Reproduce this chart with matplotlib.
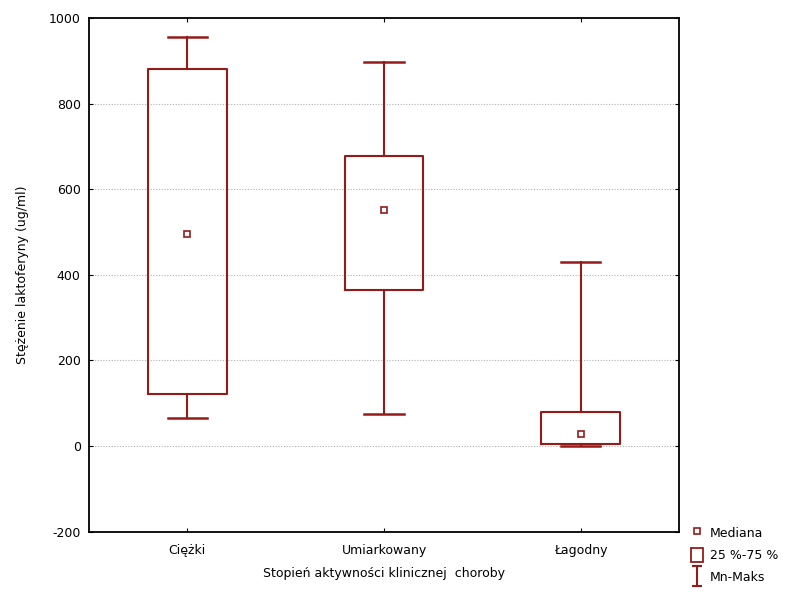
"""Lactoferrin concentration by clinical activity grade — box-whisker chart."""

import matplotlib
matplotlib.use('Agg')
import matplotlib.pyplot as plt
from matplotlib.lines import Line2D
from matplotlib.patches import Patch
from matplotlib.path import Path

# Per-group summary statistics (ug/ml)
groups = ['Ciężki', 'Umiarkowany', 'Łagodny']
medians = [495, 551, 27]
q1 = [121, 364, 5]
q3 = [882, 679, 80]
mins = [65, 75, 1]
maxs = [957, 898, 431]

RED = '#951b1b'

plt.rcParams['font.family'] = ['DejaVu Sans']
plt.rcParams['font.size'] = 9
plt.rcParams['axes.unicode_minus'] = False

fig = plt.figure(figsize=(7.87, 5.94), dpi=100)
ax = fig.add_axes([0.1131, 0.1052, 0.7497, 0.8637])

stats = []
for name, med, lo, hi, mn, mx in zip(groups, medians, q1, q3, mins, maxs):
    stats.append({'label': name, 'med': med, 'q1': lo, 'q3': hi,
                  'whislo': mn, 'whishi': mx})

positions = list(range(1, len(groups) + 1))
ax.bxp(stats, positions=positions, widths=0.4, capwidths=0.2,
       showfliers=False, patch_artist=False,
       boxprops=dict(color=RED, linewidth=1.5),
       whiskerprops=dict(color=RED, linewidth=1.5),
       capprops=dict(color=RED, linewidth=1.8),
       medianprops=dict(linestyle='none'),
       zorder=3)
ax.plot(positions, medians, linestyle='none', marker='s', markersize=4.5,
        markerfacecolor='white', markeredgecolor=RED, markeredgewidth=1.2,
        zorder=4)

ax.set_xlim(0.5, 3.5)
ax.set_ylim(-200, 1000)
ax.set_yticks(range(-200, 1001, 200))
ax.set_xticks(positions)
ax.set_xticklabels(groups)

# dotted grid only across the inner ticks
for y in range(0, 801, 200):
    ax.axhline(y, color='#b0b0b0', linestyle=(0, (1, 1.5)), linewidth=0.8, zorder=1)

for side in ax.spines.values():
    side.set_linewidth(1.3)
    side.set_color('black')

ax.tick_params(axis='x', direction='in', top=True, bottom=True, length=3, pad=9)
ax.tick_params(axis='y', direction='in', left=True, right=True, length=3, pad=6)

ax.set_xlabel('Stopień aktywności klinicznej  choroby', labelpad=7)
ax.set_ylabel('Stężenie laktoferyny (ug/ml)', labelpad=14)

# legend path for the min-max whisker symbol
whisker_path = Path(
    [(-0.5, 1), (0.5, 1), (0, 1), (0, -1), (-0.5, -1), (0.5, -1)],
    [Path.MOVETO, Path.LINETO, Path.MOVETO, Path.LINETO, Path.MOVETO, Path.LINETO],
)
handles = [
    Line2D([], [], linestyle='none', marker='s', markersize=4.5,
           markerfacecolor='white', markeredgecolor=RED, markeredgewidth=1.2),
    Patch(facecolor='white', edgecolor=RED, linewidth=1.3),
    Line2D([], [], linestyle='none', marker=whisker_path, markersize=15,
           markerfacecolor='none', markeredgecolor=RED, markeredgewidth=1.5),
]
labels = ['Mediana', '25 %-75 %', 'Mn-Maks']
fig.legend(handles, labels, loc='lower left', bbox_to_anchor=(0.865, 0.0),
           frameon=False, handlelength=1.0, handleheight=1.3, handletextpad=0.5,
           labelspacing=0.65, borderaxespad=0.4)

fig.savefig('out.png', dpi=100)
